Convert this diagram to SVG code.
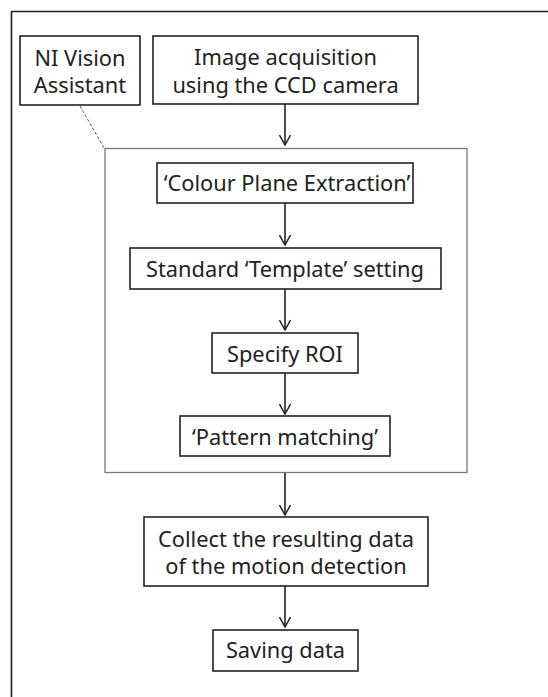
<svg xmlns="http://www.w3.org/2000/svg" width="548" height="697" viewBox="0 0 548 697">
<style>
.box{fill:#fff;stroke:#222;stroke-width:1.6}
.t{font-family:"Noto Sans","Open Sans","DejaVu Sans",sans-serif;font-size:21.8px;fill:#222;text-anchor:middle}
.c{fill:none;stroke:#222;stroke-width:1.6}
</style>
<defs>
<marker id="v" viewBox="0 0 12 12" refX="11" refY="6" markerWidth="12" markerHeight="12" markerUnits="userSpaceOnUse" orient="auto">
<path d="M1,0.5 L11,6 L1,11.5" fill="none" stroke="#222" stroke-width="1.5"/>
</marker>
</defs>
<rect width="548" height="697" fill="#fff"/>
<path d="M11.5,697 V11.5 H548" fill="none" stroke="#222" stroke-width="1.6"/>
<g id="vision-group">
<rect x="105" y="148.5" width="362" height="324" fill="none" stroke="#777" stroke-width="1.3"/>
</g>
<g id="connectors">
<line x1="80" y1="106" x2="104" y2="148" stroke="#555" stroke-width="1" stroke-dasharray="3,2"/>
<line class="c" x1="285" y1="104" x2="285" y2="145" marker-end="url(#v)"/>
<line class="c" x1="285" y1="203" x2="285" y2="245" marker-end="url(#v)"/>
<line class="c" x1="285" y1="289" x2="285" y2="330" marker-end="url(#v)"/>
<line class="c" x1="285" y1="373" x2="285" y2="414" marker-end="url(#v)"/>
<line class="c" x1="285" y1="473" x2="285" y2="515" marker-end="url(#v)"/>
<line class="c" x1="285" y1="586" x2="285" y2="627" marker-end="url(#v)"/>
</g>
<g id="ni-vision">
<rect class="box" x="20" y="36" width="120" height="69"/>
<text class="t" x="80" y="66">NI Vision</text>
<text class="t" x="80" y="93">Assistant</text>
</g>
<g id="image-acquisition">
<rect class="box" x="153" y="36" width="265" height="68"/>
<text class="t" x="285.5" y="65">Image acquisition</text>
<text class="t" x="285.5" y="93">using the CCD camera</text>
</g>
<g id="colour-plane">
<rect class="box" x="157" y="163" width="256" height="40"/>
<text class="t" x="287" y="191">‘Colour Plane Extraction’</text>
</g>
<g id="template">
<rect class="box" x="130" y="248" width="311" height="41"/>
<text class="t" x="285" y="277">Standard ‘Template’ setting</text>
</g>
<g id="roi">
<rect class="box" x="212" y="333" width="146" height="40"/>
<text class="t" x="285" y="362">Specify ROI</text>
</g>
<g id="pattern">
<rect class="box" x="180" y="416" width="210" height="40"/>
<text class="t" x="285" y="445">‘Pattern matching’</text>
</g>
<g id="collect">
<rect class="box" x="144" y="517" width="284" height="69"/>
<text class="t" x="286" y="547">Collect the resulting data</text>
<text class="t" x="286" y="574">of the motion detection</text>
</g>
<g id="saving">
<rect class="box" x="213" y="630" width="145" height="41"/>
<text class="t" x="285.5" y="658">Saving data</text>
</g>
</svg>
